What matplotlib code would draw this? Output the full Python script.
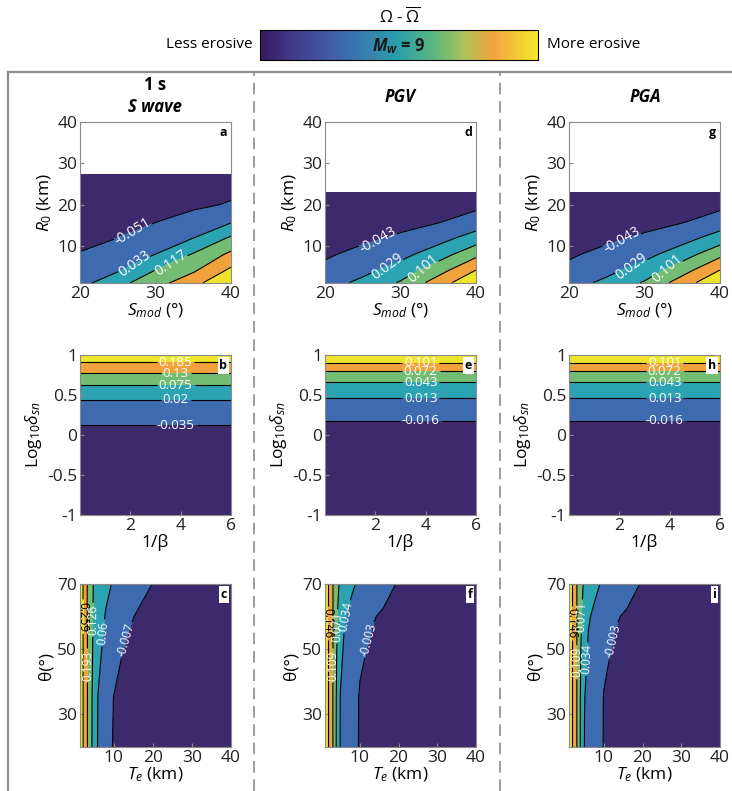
import numpy as np
import matplotlib
matplotlib.use('Agg')
import matplotlib.pyplot as plt
from matplotlib.colors import LinearSegmentedColormap, Normalize
from matplotlib.cm import ScalarMappable
from matplotlib.lines import Line2D

plt.rcParams['font.family'] = ['Open Sans', 'DejaVu Sans']
plt.rcParams['mathtext.fontset'] = 'custom'
plt.rcParams['mathtext.rm'] = 'Open Sans'
plt.rcParams['mathtext.it'] = 'Open Sans:italic'
plt.rcParams['mathtext.bf'] = 'Open Sans:bold'
plt.rcParams['mathtext.bfit'] = 'Open Sans:italic:bold'
plt.rcParams['contour.negative_linestyle'] = 'solid'

# ---- data ----
# top row: Omega - mean(Omega) over Smod (cols) and R0 (rows)
smod = [20, 25, 30, 35, 40]
r0_1s = [1.1, 4, 8, 12, 16, 20, 24, 27.2]
r0_pg = [1.2, 4, 8, 12, 16, 20, 23]
om_a = [[0.005, 0.093, 0.167, 0.260, 0.360],
        [-0.017, 0.028, 0.122, 0.192, 0.305],
        [-0.047, -0.012, 0.034, 0.124, 0.219],
        [-0.070, -0.051, -0.011, 0.032, 0.128],
        [-0.090, -0.075, -0.054, -0.019, 0.023],
        [-0.110, -0.095, -0.075, -0.066, -0.044],
        [-0.130, -0.115, -0.095, -0.085, -0.070],
        [-0.140, -0.130, -0.110, -0.100, -0.080]]
om_d = [[0.000, 0.045, 0.108, 0.207, 0.310],
        [-0.027, 0.012, 0.062, 0.148, 0.250],
        [-0.051, -0.025, 0.008, 0.067, 0.155],
        [-0.072, -0.055, -0.035, 0.002, 0.060],
        [-0.090, -0.075, -0.060, -0.048, -0.013],
        [-0.105, -0.092, -0.078, -0.065, -0.059],
        [-0.115, -0.103, -0.090, -0.077, -0.068]]
om_g = [[0.000, 0.045, 0.108, 0.207, 0.310],
        [-0.027, 0.012, 0.062, 0.148, 0.250],
        [-0.051, -0.025, 0.008, 0.067, 0.155],
        [-0.072, -0.055, -0.035, 0.002, 0.060],
        [-0.090, -0.075, -0.060, -0.048, -0.013],
        [-0.105, -0.092, -0.078, -0.065, -0.059],
        [-0.115, -0.103, -0.090, -0.077, -0.068]]

# middle row: profile along log10(delta_sn), flat in 1/beta
inv_beta = [0, 6]
logd_b = [-1, -0.5, 0, 0.125, 0.44, 0.625, 0.77, 0.91, 1]
om_b = [-0.13, -0.10, -0.065, -0.035, 0.02, 0.075, 0.13, 0.185, 0.21]
logd_e = [-1, -0.5, 0, 0.18, 0.46, 0.66, 0.80, 0.905, 1]
om_e = [-0.07, -0.055, -0.035, -0.016, 0.013, 0.043, 0.072, 0.101, 0.12]
om_h = [-0.07, -0.055, -0.035, -0.016, 0.013, 0.043, 0.072, 0.101, 0.12]

# bottom row: Te (cols) and theta (rows)
theta = [20, 35, 50, 60, 70]
te_c = [1.4, 2, 3, 4, 5, 6, 8, 10, 13, 16, 20, 40]
om_c = [[0.31, 0.271, 0.211, 0.150, 0.096, 0.055, 0.020, -0.012, -0.020, -0.025, -0.030, -0.040],
        [0.31, 0.271, 0.211, 0.150, 0.100, 0.058, 0.026, -0.008, -0.016, -0.022, -0.027, -0.040],
        [0.31, 0.271, 0.211, 0.154, 0.110, 0.077, 0.041, 0.016, -0.012, -0.018, -0.023, -0.040],
        [0.31, 0.271, 0.206, 0.152, 0.115, 0.093, 0.055, 0.036, 0.007, -0.012, -0.018, -0.035],
        [0.31, 0.271, 0.206, 0.152, 0.119, 0.104, 0.075, 0.054, 0.036, 0.017, -0.008, -0.030]]
te_f = [1, 2, 3, 4, 5, 6, 8, 10, 13, 16, 20, 40]
om_f = [[0.171, 0.140, 0.111, 0.066, 0.031, 0.023, 0.006, -0.005, -0.008, -0.011, -0.014, -0.022],
        [0.171, 0.140, 0.111, 0.067, 0.032, 0.024, 0.008, -0.005, -0.008, -0.011, -0.013, -0.021],
        [0.171, 0.140, 0.111, 0.072, 0.043, 0.029, 0.015, 0.001, -0.006, -0.009, -0.012, -0.020],
        [0.171, 0.140, 0.111, 0.075, 0.055, 0.036, 0.025, 0.015, -0.001, -0.006, -0.010, -0.018],
        [0.171, 0.140, 0.111, 0.080, 0.065, 0.056, 0.038, 0.029, 0.017, 0.006, -0.005, -0.015]]
om_i = [[0.172, 0.141, 0.110, 0.067, 0.033, 0.024, 0.007, -0.004, -0.008, -0.011, -0.014, -0.022],
        [0.172, 0.141, 0.110, 0.068, 0.035, 0.025, 0.009, -0.004, -0.008, -0.011, -0.013, -0.021],
        [0.172, 0.141, 0.110, 0.073, 0.045, 0.030, 0.016, 0.002, -0.006, -0.009, -0.012, -0.020],
        [0.172, 0.141, 0.110, 0.076, 0.056, 0.037, 0.026, 0.015, -0.001, -0.006, -0.010, -0.018],
        [0.172, 0.141, 0.110, 0.081, 0.066, 0.057, 0.039, 0.029, 0.017, 0.006, -0.005, -0.015]]

lev_a = [-0.051, 0.033, 0.117, 0.201, 0.285]
lev_d = [-0.043, 0.029, 0.101, 0.173, 0.245]
lev_b = [-0.035, 0.02, 0.075, 0.13, 0.185]
lev_e = [-0.016, 0.013, 0.043, 0.072, 0.101]
lev_c = [-0.007, 0.06, 0.126, 0.193, 0.259]
lev_f = [-0.003, 0.034, 0.071, 0.109, 0.146]

fill_cols = ['#3d2a6c', '#3e6bb0', '#2ba3b3', '#72bd73', '#f2a23d', '#efe42c']
bar_cmap = LinearSegmentedColormap.from_list('ero', [
    (0.0, '#36195f'), (0.12, '#413a8c'), (0.3, '#3e69ae'), (0.5, '#2aa1ab'),
    (0.64, '#62b97a'), (0.74, '#b2c157'), (0.84, '#f3a33f'), (1.0, '#f3e82a')])

W, H = 732, 791
fig = plt.figure(figsize=(W / 100, H / 100), dpi=100)

col_left = [80, 325, 569]
rows = [(283, 161), (515, 160), (747, 163)]


def make_ax(col, row):
    bot, h = rows[row]
    ax = fig.add_axes([col_left[col] / W, 1 - bot / H, 151 / W, h / H])
    for s in ax.spines.values():
        s.set_color('#8a8a8a')
        s.set_linewidth(0.8)
    ax.tick_params(direction='in', length=3, color='#8a8a8a', labelsize=12.5,
                   labelcolor='#222222', pad=2)
    return ax


def draw(ax, x, y, z, levels, lab_lev, lab_pos, lab_cols, letter, fs):
    z = np.array(z)
    bounds = [-1.0] + levels + [1.0]
    ax.contourf(x, y, z, levels=bounds, colors=fill_cols)
    cs = ax.contour(x, y, z, levels=levels, colors='k', linewidths=0.8)
    lab = ax.clabel(cs, levels=lab_lev, manual=lab_pos, inline=True, fmt='%g',
                    fontsize=fs, inline_spacing=2)
    for t in lab:
        t.set_color(lab_cols.get(float(t.get_text()), 'white'))
    ax.text(0.975, 0.975, letter, transform=ax.transAxes, ha='right', va='top',
            fontsize=9, fontweight='bold',
            bbox=dict(facecolor='white', edgecolor='none', pad=1.2))


# top row
for col, (r0, z, lev, pos, let) in enumerate([
        (r0_1s, om_a, lev_a, [(27, 13.5), (27, 6), (32, 6)], 'a'),
        (r0_pg, om_d, lev_d, [(27, 11.5), (28.4, 5), (32.9, 4.8)], 'd'),
        (r0_pg, om_g, lev_d, [(27, 11.5), (28.4, 5), (32.9, 4.8)], 'g')]):
    ax = make_ax(col, 0)
    draw(ax, smod, r0, z, lev, lev[:3], pos, {}, let, 10)
    ax.set_xlim(20, 40)
    ax.set_ylim(1.1, 40)
    ax.set_xticks([20, 30, 40])
    ax.set_yticks([10, 20, 30, 40])
    ax.set_xlabel(r'$S_{mod}$ (°)', fontsize=12.5, labelpad=0)
    ax.set_ylabel(r'$R_{\mathit{0}}$ (km)', fontsize=12.5, labelpad=2)

# middle row
for col, (yy, prof, lev, let) in enumerate([(logd_b, om_b, lev_b, 'b'),
                                            (logd_e, om_e, lev_e, 'e'),
                                            (logd_e, om_h, lev_e, 'h')]):
    ax = make_ax(col, 1)
    z = np.column_stack([prof, prof])
    pos = [(3.8, np.interp(l, prof, yy)) for l in lev]
    draw(ax, inv_beta, yy, z, lev, lev, pos, {}, let, 9.5)
    ax.set_xlim(0, 6)
    ax.set_ylim(-1, 1)
    ax.set_xticks([2, 4, 6])
    ax.set_yticks([-1, -0.5, 0, 0.5, 1])
    ax.set_yticklabels(['-1', '-0.5', '0', '0.5', '1'])
    ax.set_xlabel('1/β', fontsize=12.5, labelpad=0)
    ax.set_ylabel(r'Log$_{10}\delta_{sn}$', fontsize=12.5, labelpad=2)

# bottom row
for col, (te, z, lev, pos, let) in enumerate([
        (te_c, om_c, lev_c, [(2.2, 60), (3.3, 45), (4.5, 59), (7, 55), (12.8, 53)], 'c'),
        (te_f, om_f, lev_f, [(1.9, 58), (2.9, 45), (4.2, 57), (6.2, 60), (11.8, 53)], 'f'),
        (te_f, om_i, lev_f, [(1.9, 58), (2.9, 46), (4.1, 60), (5.4, 47), (10.8, 53)], 'i')]):
    ax = make_ax(col, 2)
    draw(ax, te, theta, z, lev, lev, pos, {lev[-1]: 'black'}, let, 8.5)
    ax.set_xlim(te[0], 40)
    ax.set_ylim(20, 70)
    ax.set_xticks([10, 20, 30, 40])
    ax.set_yticks([30, 50, 70])
    ax.set_xlabel(r'$T_e$ (km)', fontsize=12.5, labelpad=0)
    ax.set_ylabel('θ(°)', fontsize=12.5, labelpad=2)

# colour bar and its texts
cax = fig.add_axes([260 / W, 1 - 59.5 / H, 278 / W, 29.5 / H])
cb = fig.colorbar(ScalarMappable(Normalize(0, 1), bar_cmap), cax=cax,
                  orientation='horizontal', ticks=[])
cb.outline.set_linewidth(0.8)
cax.text(0.5, 0.45, r'$\mathbfit{M}_{\mathbfit{w}}$ = 9', transform=cax.transAxes,
         ha='center', va='center', fontsize=12, fontweight='bold', color='#1a1a1a')
fig.text(400 / W, 1 - 17 / H, r'$\Omega$ - $\overline{\Omega}$', ha='center',
         va='center', fontsize=12)
fig.text(253 / W, 1 - 45 / H, 'Less erosive', ha='right', va='center', fontsize=11)
fig.text(547 / W, 1 - 45 / H, 'More erosive', ha='left', va='center', fontsize=11)

# column headers
fig.text(155 / W, 1 - 85 / H, '1 s', ha='center', va='center', fontsize=12,
         fontweight='bold')
fig.text(155 / W, 1 - 107 / H, 'S wave', ha='center', va='center', fontsize=12,
         fontweight='bold', style='italic')
fig.text(400 / W, 1 - 97 / H, 'PGV', ha='center', va='center', fontsize=12,
         fontweight='bold', style='italic')
fig.text(645 / W, 1 - 97 / H, 'PGA', ha='center', va='center', fontsize=12,
         fontweight='bold', style='italic')

# frame and dashed separators
top = 1 - 72 / H
fig.add_artist(Line2D([8 / W, 1], [top, top], transform=fig.transFigure,
                      color='#8c8c8c', lw=1.6))
fig.add_artist(Line2D([8 / W, 8 / W], [0, top], transform=fig.transFigure,
                      color='#8c8c8c', lw=1.6))
for xs in [254, 500]:
    fig.add_artist(Line2D([xs / W, xs / W], [0, top], transform=fig.transFigure,
                          color='#8c8c8c', lw=1.2, ls=(0, (7, 4))))

fig.savefig('out.png', dpi=100)
